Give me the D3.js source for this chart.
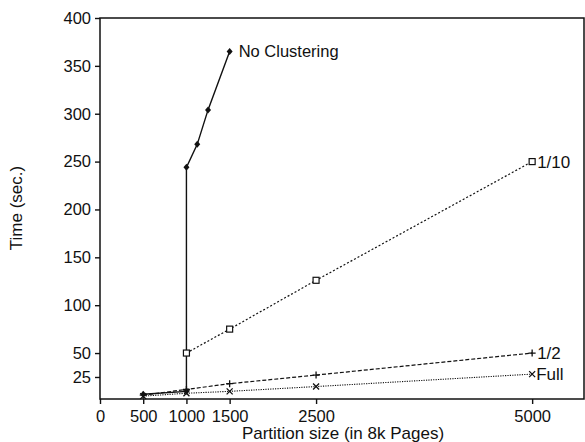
<!DOCTYPE html>
<html>
<head>
<meta charset="utf-8">
<script src="https://cdn.jsdelivr.net/npm/d3@7"></script>
<style>
  body { margin: 0; background: #fff; }
  svg { font-family: "Liberation Sans", Arial, sans-serif; }
</style>
</head>
<body>
<svg width="585" height="442"></svg>
<script>
// data
const xTicks = [0, 500, 1000, 1500, 2500, 5000];
const yTicks = [25, 50, 100, 150, 200, 250, 300, 350, 400];

const noClustering = [[500, 7], [1000, 10], [1000, 244], [1125, 268], [1250, 304], [1500, 365]];
const tenth = [[1000, 50], [1500, 75], [2500, 126], [5000, 250]];
const half = [[500, 6], [1000, 12], [1500, 18], [2500, 27], [5000, 50]];
const full = [[500, 5], [1000, 8], [1500, 10], [2500, 15], [5000, 28]];

const series = [
  { name: "No Clustering", pts: noClustering, dash: null, width: 1.4, mark: "diamond", dx: 9 },
  { name: "1/10", pts: tenth, dash: "2,2", width: 1.2, mark: "square", dx: 5 },
  { name: "1/2", pts: half, dash: "4,2", width: 1.2, mark: "plus", dx: 5 },
  { name: "Full", pts: full, dash: "1.2,1.2", width: 1.1, mark: "cross", dx: 4 }
];

const svg = d3.select("svg");
const x = d3.scaleLinear().domain([0, 5600]).range([100, 584]);
const y = d3.scaleLinear().domain([2, 400]).range([399, 18]);

// frame
svg.append("rect")
  .attr("x", x(0)).attr("y", y(400))
  .attr("width", x(5600) - x(0)).attr("height", y(2) - y(400))
  .attr("fill", "none").attr("stroke", "#111").attr("stroke-width", 1.5);

const xAxis = svg.append("g")
  .attr("transform", `translate(0,${y(2)})`)
  .call(d3.axisBottom(x).tickValues(xTicks).tickSize(5).tickPadding(6).tickFormat(d3.format("d")));
const yAxis = svg.append("g")
  .attr("transform", `translate(${x(0)},0)`)
  .call(d3.axisLeft(y).tickValues(yTicks).tickSize(5).tickPadding(4).tickFormat(d3.format("d")));

[xAxis, yAxis].forEach(a => {
  a.select(".domain").remove();
  a.selectAll(".tick line").attr("stroke", "#111").attr("stroke-width", 1.4);
  a.selectAll(".tick text").attr("fill", "#111").attr("font-size", 16.5);
});

svg.append("text")
  .attr("x", 343).attr("y", 439)
  .attr("text-anchor", "middle").attr("font-size", 17).attr("fill", "#111")
  .text("Partition size (in 8k Pages)");

svg.append("text")
  .attr("transform", "translate(22,208) rotate(-90)")
  .attr("text-anchor", "middle").attr("font-size", 17).attr("fill", "#111")
  .text("Time (sec.)");

const line = d3.line().x(d => x(d[0])).y(d => y(d[1]));

series.forEach(s => {
  const g = svg.append("g");
  g.append("path")
    .attr("d", line(s.pts))
    .attr("fill", "none")
    .attr("stroke", "#111")
    .attr("stroke-width", s.width)
    .attr("stroke-dasharray", s.dash);

  const m = g.selectAll(".m").data(s.pts).enter().append("g")
    .attr("transform", d => `translate(${x(d[0])},${y(d[1])})`);
  if (s.mark === "diamond") {
    m.append("path").attr("d", "M0,-3.5L3,0L0,3.5L-3,0Z").attr("fill", "#111");
  } else if (s.mark === "square") {
    m.append("rect").attr("x", -3).attr("y", -3).attr("width", 6).attr("height", 6)
      .attr("fill", "#fff").attr("stroke", "#111").attr("stroke-width", 1.2);
  } else if (s.mark === "plus") {
    m.append("path").attr("d", "M-3.5,0H3.5M0,-3.5V3.5").attr("stroke", "#111").attr("stroke-width", 1.3);
  } else {
    m.append("path").attr("d", "M-3,-3L3,3M-3,3L3,-3").attr("stroke", "#111").attr("stroke-width", 1.3);
  }

  const last = s.pts[s.pts.length - 1];
  svg.append("text")
    .attr("x", x(last[0]) + s.dx).attr("y", y(last[1]))
    .attr("dy", "0.35em").attr("font-size", s.name === "No Clustering" ? 16.5 : 17)
    .attr("fill", "#111")
    .text(s.name);
});
</script>
</body>
</html>
